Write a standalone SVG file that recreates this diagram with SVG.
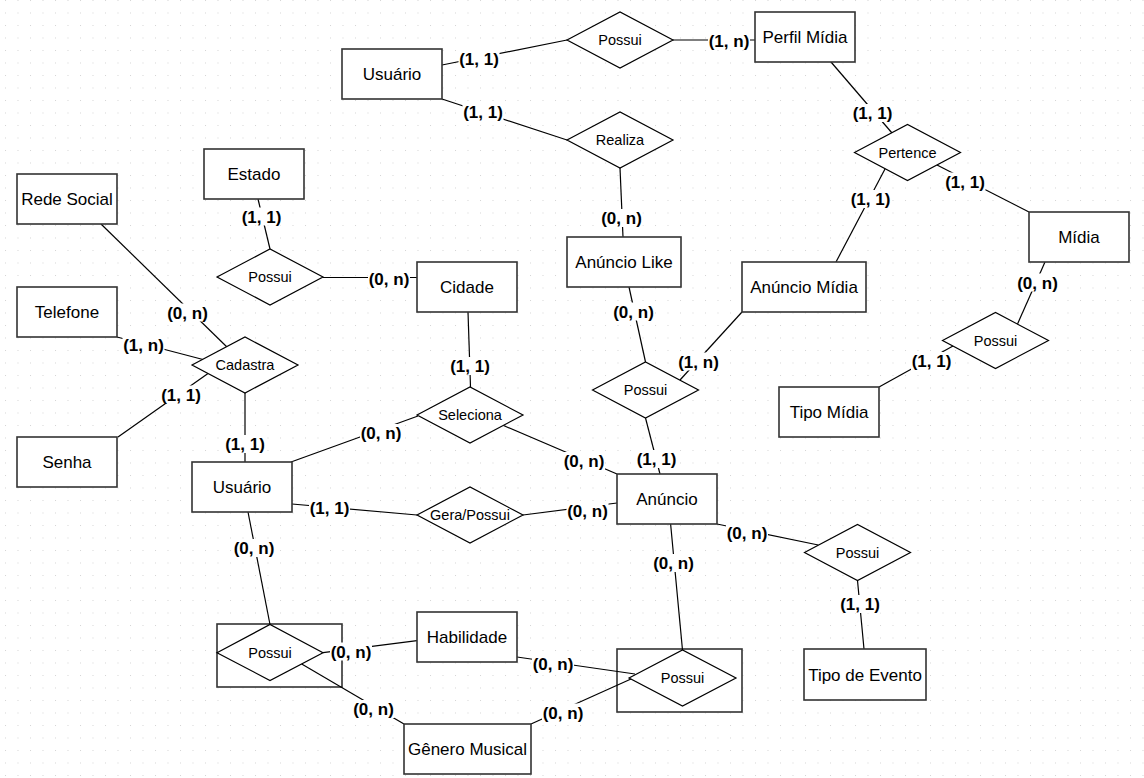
<svg xmlns="http://www.w3.org/2000/svg" width="1144" height="778" viewBox="0 0 1144 778">
<style>
.ent{fill:#fff;stroke:#333;stroke-width:1.6}
.rel{fill:#fff;stroke:#000;stroke-width:1.2}
.t{font-family:"Liberation Sans",Arial,sans-serif;font-size:17px;fill:#000;text-anchor:middle}
.tr{font-family:"Liberation Sans",Arial,sans-serif;font-size:14.5px;fill:#000;text-anchor:middle}
.lbl{font-family:"Liberation Sans",Arial,sans-serif;font-size:17px;font-weight:bold;fill:#000;text-anchor:middle}
.bg{fill:#fff}
#edges line{stroke:#000;stroke-width:1.2}
</style>
<defs>
<pattern id="grid" width="12.5" height="12.5" patternUnits="userSpaceOnUse" x="5" y="0">
<rect width="1" height="1" fill="#d4d4d4"/>
</pattern>
</defs>
<rect width="1144" height="778" fill="#fff"/>
<rect width="1144" height="778" fill="url(#grid)"/>

<g id="n-possui-hab-left"><rect class="ent" x="217" y="624" width="125" height="63"/><polygon class="rel" points="217,652.7 270,624.5 323,652.7 270,680.5"/><text class="tr" x="270" y="658">Possui</text></g>
<g id="n-possui-hab-right"><rect class="ent" x="617" y="649" width="125" height="63"/><polygon class="rel" points="629,678 682.5,650 736,678 682.5,706"/><text class="tr" x="682.5" y="683">Possui</text></g>

<g id="edges">
<line x1="442" y1="65" x2="567" y2="40"/>
<line x1="673" y1="40" x2="755" y2="40"/>
<line x1="442" y1="99" x2="567" y2="140"/>
<line x1="620" y1="168" x2="623" y2="237"/>
<line x1="831" y1="62" x2="892" y2="133"/>
<line x1="885" y1="169" x2="836" y2="262"/>
<line x1="937" y1="165" x2="1029" y2="212"/>
<line x1="1045" y1="262" x2="1017.5" y2="324"/>
<line x1="953" y1="346" x2="879" y2="387"/>
<line x1="629" y1="287" x2="645.5" y2="362"/>
<line x1="742" y1="312" x2="680" y2="380"/>
<line x1="645.5" y1="418" x2="660" y2="474"/>
<line x1="258" y1="199" x2="270" y2="249"/>
<line x1="323" y1="277.5" x2="417" y2="277.5"/>
<line x1="101" y1="224" x2="226.7" y2="346.7"/>
<line x1="117" y1="337" x2="203" y2="359.5"/>
<line x1="118" y1="437" x2="208" y2="373.4"/>
<line x1="245" y1="393" x2="245" y2="462"/>
<line x1="468" y1="312" x2="470.5" y2="387"/>
<line x1="291" y1="462" x2="418" y2="416"/>
<line x1="503.5" y1="425.5" x2="617" y2="474"/>
<line x1="292" y1="504" x2="417" y2="515"/>
<line x1="523" y1="515" x2="617" y2="503"/>
<line x1="717" y1="524" x2="818.3" y2="545"/>
<line x1="857.5" y1="580.5" x2="864" y2="649"/>
<line x1="248" y1="512" x2="270" y2="624.5"/>
<line x1="323" y1="652.7" x2="417" y2="640.7"/>
<line x1="301.7" y1="664" x2="404" y2="724"/>
<line x1="517" y1="657" x2="635" y2="674"/>
<line x1="670.6" y1="524" x2="682.5" y2="650"/>
<line x1="531" y1="724" x2="631" y2="679"/>
</g>

<g id="n-usuario-top"><rect class="ent" x="342" y="49" width="100" height="50"/><text class="t" x="392" y="80">Usuário</text></g>
<g id="n-possui-perfil"><polygon class="rel" points="567,40 620,12 673,40 620,68"/><text class="tr" x="620" y="45">Possui</text></g>
<g id="n-perfil-midia"><rect class="ent" x="755" y="12" width="100" height="50"/><text class="t" x="805" y="43">Perfil Mídia</text></g>
<g id="n-realiza"><polygon class="rel" points="567,140 620,112 673,140 620,168"/><text class="tr" x="620" y="145">Realiza</text></g>
<g id="n-pertence"><polygon class="rel" points="854.5,152.5 907.5,124.5 960.5,152.5 907.5,180.5"/><text class="tr" x="907.5" y="157.5">Pertence</text></g>
<g id="n-anuncio-like"><rect class="ent" x="567" y="237" width="114" height="50"/><text class="t" x="624" y="268">Anúncio Like</text></g>
<g id="n-anuncio-midia"><rect class="ent" x="742" y="262" width="124" height="50"/><text class="t" x="804" y="293">Anúncio Mídia</text></g>
<g id="n-midia"><rect class="ent" x="1029" y="212" width="100" height="50"/><text class="t" x="1079" y="243">Mídia</text></g>
<g id="n-possui-midia"><polygon class="rel" points="942.5,340.5 995.5,312.5 1048.5,340.5 995.5,368.5"/><text class="tr" x="995.5" y="345.5">Possui</text></g>
<g id="n-tipo-midia"><rect class="ent" x="779" y="387" width="100" height="50"/><text class="t" x="829" y="418">Tipo Mídia</text></g>
<g id="n-possui-like"><polygon class="rel" points="592.5,390 645.5,362 698.5,390 645.5,418"/><text class="tr" x="645.5" y="395">Possui</text></g>
<g id="n-estado"><rect class="ent" x="204" y="149" width="100" height="50"/><text class="t" x="254" y="180">Estado</text></g>
<g id="n-possui-cidade"><polygon class="rel" points="217,277 270,249 323,277 270,305"/><text class="tr" x="270" y="282">Possui</text></g>
<g id="n-cidade"><rect class="ent" x="417" y="262" width="100" height="50"/><text class="t" x="467" y="293">Cidade</text></g>
<g id="n-rede-social"><rect class="ent" x="17" y="174" width="100" height="50"/><text class="t" x="67" y="205">Rede Social</text></g>
<g id="n-telefone"><rect class="ent" x="17" y="287" width="100" height="50"/><text class="t" x="67" y="318">Telefone</text></g>
<g id="n-senha"><rect class="ent" x="17" y="437" width="100" height="50"/><text class="t" x="67" y="468">Senha</text></g>
<g id="n-cadastra"><polygon class="rel" points="192,365 245,337 298,365 245,393"/><text class="tr" x="245" y="370">Cadastra</text></g>
<g id="n-seleciona"><polygon class="rel" points="417,415 470,387 523,415 470,443"/><text class="tr" x="470" y="420">Seleciona</text></g>
<g id="n-usuario"><rect class="ent" x="192" y="462" width="100" height="50"/><text class="t" x="242" y="493">Usuário</text></g>
<g id="n-gera-possui"><polygon class="rel" points="417,515 470,487 523,515 470,543"/><text class="tr" x="470" y="520">Gera/Possui</text></g>
<g id="n-anuncio"><rect class="ent" x="617" y="474" width="100" height="50"/><text class="t" x="667" y="505">Anúncio</text></g>
<g id="n-possui-evento"><polygon class="rel" points="804.5,552.5 857.5,524.5 910.5,552.5 857.5,580.5"/><text class="tr" x="857.5" y="557.5">Possui</text></g>
<g id="n-tipo-evento"><rect class="ent" x="804" y="649" width="122" height="51"/><text class="t" x="865" y="681">Tipo de Evento</text></g>
<g id="n-habilidade"><rect class="ent" x="417" y="612" width="100" height="50"/><text class="t" x="467" y="643">Habilidade</text></g>
<g id="n-genero"><rect class="ent" x="404" y="724" width="127" height="50"/><text class="t" x="467.5" y="755">Gênero Musical</text></g>

<g id="labels">
<rect class="bg" x="458.5" y="50" width="41" height="18"/><text class="lbl" x="479" y="65">(1, 1)</text>
<rect class="bg" x="708" y="32" width="42" height="18"/><text class="lbl" x="729" y="47">(1, n)</text>
<rect class="bg" x="462.5" y="102.5" width="41" height="18"/><text class="lbl" x="483" y="117.5">(1, 1)</text>
<rect class="bg" x="600.5" y="209" width="42" height="18"/><text class="lbl" x="621.5" y="224">(0, n)</text>
<rect class="bg" x="852" y="104" width="41" height="18"/><text class="lbl" x="872.5" y="119">(1, 1)</text>
<rect class="bg" x="850" y="190" width="41" height="18"/><text class="lbl" x="870.5" y="205">(1, 1)</text>
<rect class="bg" x="944.5" y="172.5" width="41" height="18"/><text class="lbl" x="965" y="187.5">(1, 1)</text>
<rect class="bg" x="1016.5" y="273.5" width="42" height="18"/><text class="lbl" x="1037.5" y="288.5">(0, n)</text>
<rect class="bg" x="911" y="352" width="41" height="18"/><text class="lbl" x="931.5" y="367">(1, 1)</text>
<rect class="bg" x="612.5" y="302.5" width="42" height="18"/><text class="lbl" x="633.5" y="317.5">(0, n)</text>
<rect class="bg" x="677.5" y="352.5" width="42" height="18"/><text class="lbl" x="698.5" y="367.5">(1, n)</text>
<rect class="bg" x="636" y="450" width="41" height="18"/><text class="lbl" x="656.5" y="465">(1, 1)</text>
<rect class="bg" x="241" y="207.5" width="41" height="18"/><text class="lbl" x="261.5" y="222.5">(1, 1)</text>
<rect class="bg" x="368" y="270" width="42" height="18"/><text class="lbl" x="389" y="285">(0, n)</text>
<rect class="bg" x="166.5" y="303.5" width="42" height="18"/><text class="lbl" x="187.5" y="318.5">(0, n)</text>
<rect class="bg" x="122.5" y="336" width="42" height="18"/><text class="lbl" x="143.5" y="351">(1, n)</text>
<rect class="bg" x="160.5" y="385.5" width="41" height="18"/><text class="lbl" x="181" y="400.5">(1, 1)</text>
<rect class="bg" x="224.5" y="435" width="41" height="18"/><text class="lbl" x="245" y="450">(1, 1)</text>
<rect class="bg" x="449.5" y="357" width="41" height="18"/><text class="lbl" x="470" y="372">(1, 1)</text>
<rect class="bg" x="360" y="424" width="42" height="18"/><text class="lbl" x="381" y="439">(0, n)</text>
<rect class="bg" x="563" y="452" width="42" height="18"/><text class="lbl" x="584" y="467">(0, n)</text>
<rect class="bg" x="309" y="498.5" width="41" height="18"/><text class="lbl" x="329.5" y="513.5">(1, 1)</text>
<rect class="bg" x="566.5" y="501.5" width="42" height="18"/><text class="lbl" x="587.5" y="516.5">(0, n)</text>
<rect class="bg" x="726" y="523.5" width="42" height="18"/><text class="lbl" x="747" y="538.5">(0, n)</text>
<rect class="bg" x="839.5" y="595" width="41" height="18"/><text class="lbl" x="860" y="610">(1, 1)</text>
<rect class="bg" x="233" y="539" width="42" height="18"/><text class="lbl" x="254" y="554">(0, n)</text>
<rect class="bg" x="330" y="642.5" width="42" height="18"/><text class="lbl" x="351" y="657.5">(0, n)</text>
<rect class="bg" x="352.5" y="700" width="42" height="18"/><text class="lbl" x="373.5" y="715">(0, n)</text>
<rect class="bg" x="532" y="654.5" width="42" height="18"/><text class="lbl" x="553" y="669.5">(0, n)</text>
<rect class="bg" x="652.5" y="554" width="42" height="18"/><text class="lbl" x="673.5" y="569">(0, n)</text>
<rect class="bg" x="542" y="703.5" width="42" height="18"/><text class="lbl" x="563" y="718.5">(0, n)</text>
</g>
</svg>
